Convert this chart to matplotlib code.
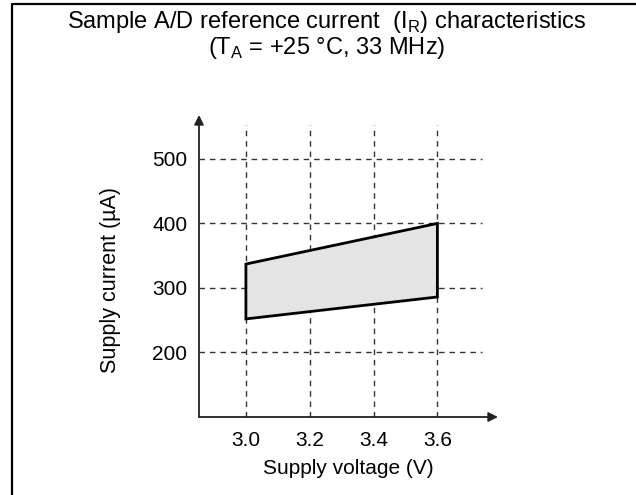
import matplotlib.pyplot as plt

plt.rcParams['font.family'] = ['Liberation Sans', 'DejaVu Sans']

# supply voltage range and current band (uA)
voltage = [3.0, 3.6]
current_max = [337, 400]
current_min = [252, 286]

x_ticks = [3.0, 3.2, 3.4, 3.6]
y_ticks = [200, 300, 400, 500]

fig = plt.figure(figsize=(6.36, 4.95), dpi=100)
ax = fig.add_axes([199 / 636, 78 / 495, 299 / 636, 302 / 495])
ax.set_xlim(2.853, 3.79)
ax.set_ylim(100, 568)

# dashed grid, drawn by hand so it stops short of the arrows
for xv in x_ticks:
    ax.plot([xv, xv], [100, 553], ls=(0, (4, 3.5)), color='#333333', lw=1, zorder=1)
for yv in y_ticks:
    ax.plot([2.853, 3.74], [yv, yv], ls=(0, (4, 3.5)), color='#333333', lw=1, zorder=1)

# shaded band
xs = [voltage[0], voltage[1], voltage[1], voltage[0], voltage[0]]
ys = [current_max[0], current_max[1], current_min[1], current_min[0], current_max[0]]
ax.fill(xs, ys, facecolor='#e4e4e4', edgecolor='black', lw=2.0, zorder=2)

for s in ax.spines.values():
    s.set_visible(False)
arrow = dict(arrowstyle='-|>', color='#222222', lw=1.3, mutation_scale=14, shrinkA=0, shrinkB=0)
ax.annotate('', xy=(3.79, 100), xytext=(2.853, 100), arrowprops=arrow, annotation_clip=False)
ax.annotate('', xy=(2.853, 568), xytext=(2.853, 100), arrowprops=arrow, annotation_clip=False)

ax.set_xticks(x_ticks)
ax.set_xticklabels([f'{v:.1f}' for v in x_ticks])
ax.set_yticks(y_ticks)
ax.tick_params(length=0, labelsize=15, pad=10)
ax.tick_params(axis='y', pad=8.5)

ax.set_xlabel('Supply voltage (V)', fontsize=15, labelpad=6.5)
ax.set_ylabel('Supply current (\u00b5A)', fontsize=15.5)
ax.yaxis.set_label_coords(121 / 636, 1 - 280 / 495, transform=fig.transFigure)

fig.text(327 / 636, 1 - 22 / 495, 'Sample A/D reference current  (I$_\\mathregular{R}$) characteristics',
         ha='center', va='center', fontsize=17)
fig.text(327 / 636, 1 - 48 / 495, '(T$_\\mathregular{A}$ = +25 \u00b0C, 33 MHz)',
         ha='center', va='center', fontsize=17)

# page frame: only the left and top rules are drawn
fig.add_artist(plt.Line2D([12 / 636, 12 / 636, 1], [0, 1 - 4 / 495, 1 - 4 / 495],
                          transform=fig.transFigure, color='black', lw=1.6))

fig.savefig('out.png', dpi=100)
